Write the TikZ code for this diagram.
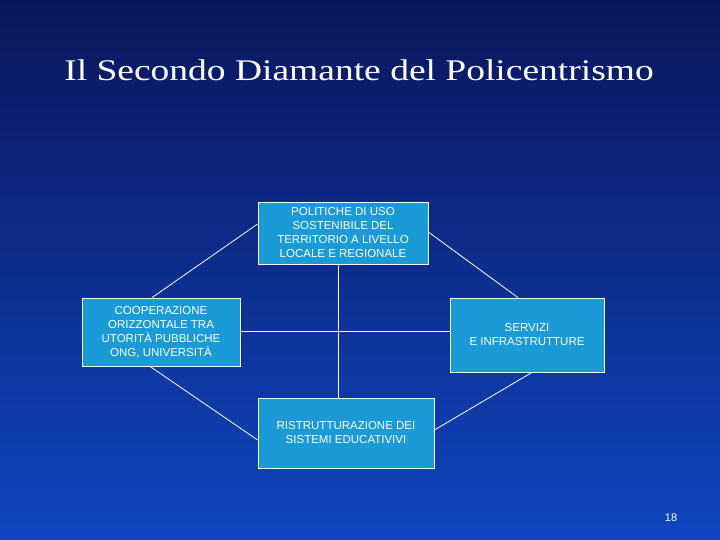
\documentclass[tikz,border=0pt]{standalone}
\usepackage{fontspec}
\setmainfont{Liberation Sans}
\newfontfamily\titlefont{Liberation Serif}
\begin{document}
\begin{tikzpicture}[x=1pt,y=-1pt,
  bx/.style={draw=white,line width=0.8pt,fill={rgb,255:red,26;green,154;blue,214},text=white,align=center,font=\fontsize{11.5}{14}\selectfont,inner sep=0pt},
  ln/.style={draw=white,line width=0.8pt}]
\shade[top color={rgb,255:red,10;green,22;blue,92},bottom color={rgb,255:red,16;green,70;blue,192}] (0,0) rectangle (720,540);
\useasboundingbox (0,0) rectangle (720,540);
\node[text=white,font=\titlefont\fontsize{30}{32}\selectfont,xscale=1.25] (title) at (359,70) {Il Secondo Diamante del Policentrismo};
\node[bx,minimum width=170pt,minimum height=62pt] (t) at (343,233) {POLITICHE DI USO\\SOSTENIBILE DEL\\TERRITORIO A LIVELLO\\LOCALE E REGIONALE};
\node[bx,minimum width=158pt,minimum height=68pt] (l) at (161,332) {COOPERAZIONE\\ORIZZONTALE TRA\\UTORITÀ PUBBLICHE\\ONG, UNIVERSITÀ};
\node[bx,minimum width=154pt,minimum height=74pt] (r) at (527,335) {SERVIZI\\E INFRASTRUTTURE};
\node[bx,minimum width=176pt,minimum height=70pt] (b) at (346,433) {RISTRUTTURAZIONE DEI\\SISTEMI EDUCATIVIVI};
\node[text=white,font=\fontsize{11}{13}\selectfont] (n) at (671,518) {18};
\draw[ln] (t.west |- 0,224) -- (l.north -| 152,0);
\draw[ln] (t.east |- 0,232) -- (r.north -| 518,0);
\draw[ln] (l.south -| 150,0) -- (b.west |- 0,440);
\draw[ln] (r.south -| 532,0) -- (b.east |- 0,430);
\draw[ln] (t.south -| 338,0) -- (b.north -| 338,0);
\draw[ln] (l.east |- 0,331) -- (r.west |- 0,331);
\end{tikzpicture}
\end{document}
